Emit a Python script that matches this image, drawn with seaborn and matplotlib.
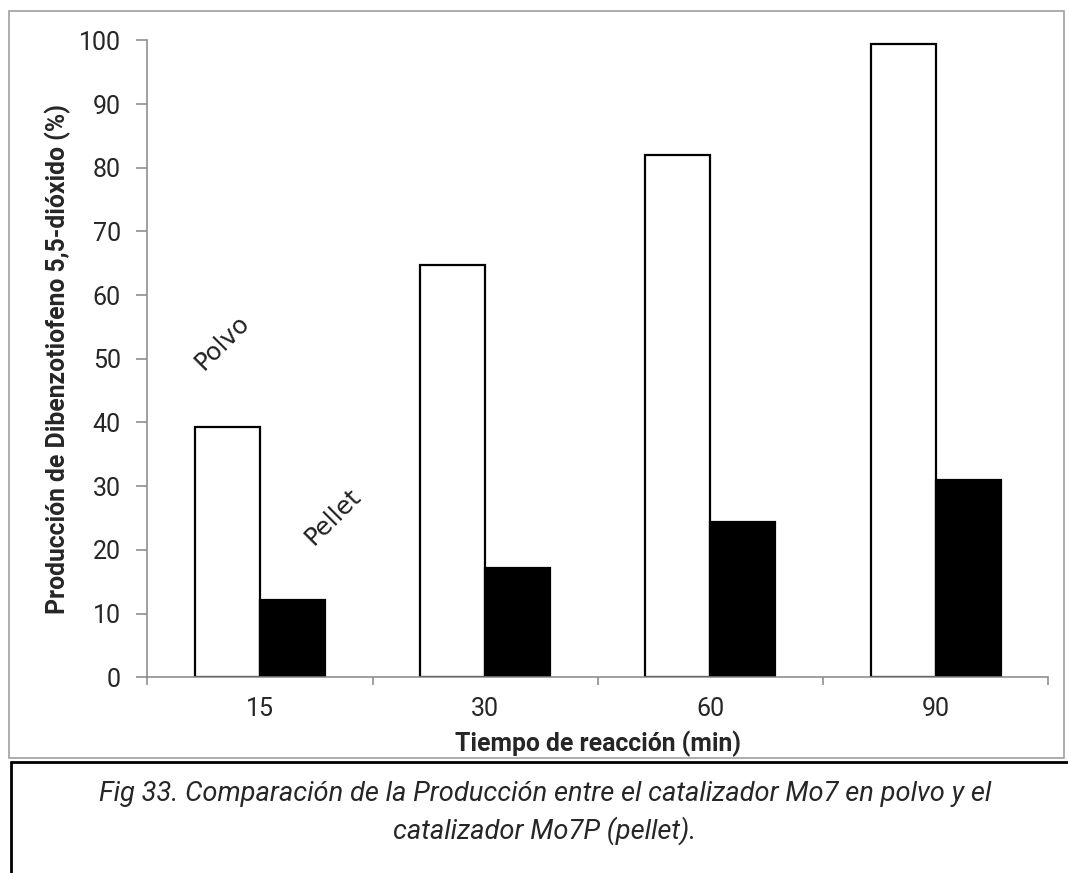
import pandas as pd
import matplotlib
matplotlib.use("Agg")
import matplotlib.pyplot as plt
import seaborn as sns
from matplotlib import font_manager
from matplotlib.patches import Rectangle
from matplotlib.lines import Line2D

# data
tiempos = ["15", "30", "60", "90"]
polvo = [39.3, 64.7, 82.0, 99.4]
pellet = [12.1, 17.1, 24.4, 30.9]
y_ticks = [0, 10, 20, 30, 40, 50, 60, 70, 80, 90, 100]

df = pd.DataFrame({
    "Tiempo": tiempos * 2,
    "Produccion": polvo + pellet,
    "Catalizador": ["Polvo"] * 4 + ["Pellet"] * 4,
})

sns.set_style("white")

names = {f.name for f in font_manager.fontManager.ttflist}
if "Liberation Sans Narrow" in names:
    fam = "Liberation Sans Narrow"
    tick_fs, lab_fs, cap_fs = 18.5, 18.5, 20.5
else:
    fam = "Roboto"
    tick_fs, lab_fs, cap_fs = 18, 17.8, 19.6
plt.rcParams["font.family"] = [fam, "DejaVu Sans"]

fig = plt.figure(figsize=(10.68, 8.73), dpi=100)
ax = fig.add_axes([0.1379, 0.2242, 0.8437, 0.7296])

sns.barplot(data=df, x="Tiempo", y="Produccion", hue="Catalizador",
            palette={"Polvo": "white", "Pellet": "black"}, saturation=1,
            width=0.577, gap=0, edgecolor="black", linewidth=1.6,
            legend=False, ax=ax)

ax.set_xlim(-0.5, 3.5)
ax.set_ylim(0, 100)
ax.set_yticks(y_ticks)
ax.tick_params(axis="y", labelsize=tick_fs, length=8, width=1.1, color="#868686",
               direction="out", pad=11, left=True)
ax.tick_params(axis="x", which="major", labelsize=tick_fs, length=0, pad=14)
ax.set_xticks([-0.5, 0.5, 1.5, 2.5, 3.5], minor=True)
ax.tick_params(axis="x", which="minor", length=6, width=1.1, color="#868686",
               direction="out", bottom=True)

for s in ["top", "right"]:
    ax.spines[s].set_visible(False)
for s in ["left", "bottom"]:
    ax.spines[s].set_color("#868686")
    ax.spines[s].set_linewidth(1.1)

ax.set_xlabel("Tiempo de reacción (min)", fontsize=lab_fs, fontweight="bold", labelpad=7)
ax.set_ylabel("Producción de Dibenzotiofeno 5,5-dióxido (%)", fontsize=lab_fs,
              fontweight="bold")
ax.yaxis.set_label_coords(-0.085, 0.5)

# hand-drawn style series labels
ax.text(-0.169, 52.6, "Polvo", rotation=45, ha="center", va="center",
        rotation_mode="anchor", fontsize=18, color="#222222", family="DejaVu Sans")
ax.text(0.324, 25.2, "Pellet", rotation=45, ha="center", va="center",
        rotation_mode="anchor", fontsize=18, color="#222222", family="DejaVu Sans")

# chart frame and caption box
fig.add_artist(Rectangle((0.0084, 0.1321), 0.9879, 0.8553, transform=fig.transFigure,
                         fill=False, edgecolor="#a0a0a0", linewidth=1.2))
fig.add_artist(Line2D([0.0103, 1.0], [0.1275, 0.1275], transform=fig.transFigure,
                      color="black", linewidth=2))
fig.add_artist(Line2D([0.0103, 0.0103], [0.1275, 0.0], transform=fig.transFigure,
                      color="black", linewidth=2))

fig.text(0.51, 0.0905, "Fig 33. Comparación de la Producción entre el catalizador Mo7 en polvo y el",
         ha="center", va="center", fontsize=cap_fs, style="italic")
fig.text(0.51, 0.048, "catalizador Mo7P (pellet).", ha="center", va="center",
         fontsize=cap_fs, style="italic")

fig.savefig("out.png", dpi=100)
